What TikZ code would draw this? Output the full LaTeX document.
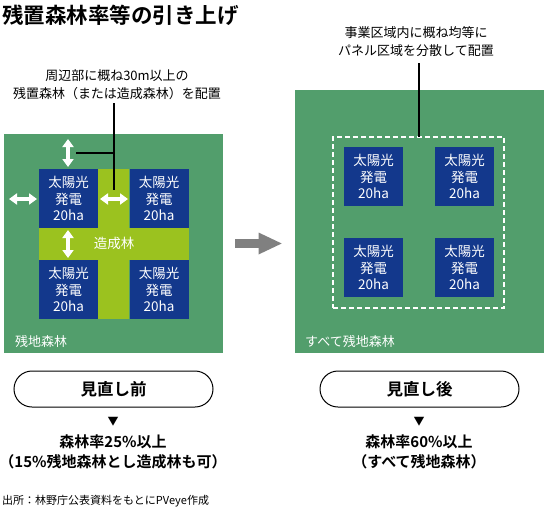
\documentclass[tikz,border=0pt]{standalone}
\usepackage{fontspec}
\setmainfont{Noto Sans CJK JP}[BoldFont={Noto Sans CJK JP Bold}]
\usetikzlibrary{arrows.meta}
\definecolor{forest}{RGB}{82,158,108}
\definecolor{panel}{RGB}{19,56,140}
\definecolor{lime}{RGB}{155,194,31}
\definecolor{arrowgray}{RGB}{128,128,128}
\tikzset{
  area/.style={fill=forest, inner sep=0pt, outer sep=0pt},
  panelbox/.style={fill=panel, inner sep=0pt, outer sep=0pt, minimum width=59pt, minimum height=59pt,
    text=white, align=center, font=\fontsize{13.5}{16.5}\selectfont},
  limebar/.style={fill=lime, inner sep=0pt, outer sep=0pt},
  dbl/.style={draw=white, line width=4pt, {Triangle[width=11pt,length=8pt]}-{Triangle[width=11pt,length=8pt]}},
  leader/.style={draw=black, line width=1.2pt},
  leadtext/.style={align=center, font=\fontsize{13}{18}\selectfont, inner sep=0pt},
  arealabel/.style={anchor=west, text=white, font=\fontsize{13}{15}\selectfont, inner sep=0pt},
  pill/.style={draw=black, line width=1pt, rounded corners=18pt, minimum width=199pt, minimum height=36pt,
    font=\bfseries\fontsize{16.5}{18}\selectfont, inner sep=0pt},
  result/.style={align=center, font=\bfseries\fontsize{15}{20}\selectfont, inner sep=0pt},
  tri/.style={font=\fontsize{11}{12}\selectfont, inner sep=0pt},
  bigarrow/.style={draw=arrowgray, line width=9pt, -{Triangle[width=20pt,length=24pt]}}
}
\begin{document}
\begin{tikzpicture}[x=1pt,y=-1pt]
\useasboundingbox (0,0) rectangle (544,509);
\fill[white] (0,0) rectangle (544,509);

% title
\node[anchor=west, inner sep=0pt, font=\bfseries\fontsize{21.5}{24}\selectfont] (title) at (2,15) {残置森林率等の引き上げ};

% ---------- left diagram ----------
\node[area, minimum width=219pt, minimum height=219pt] (lg) at (113.5,243.5) {};
\node[limebar, minimum width=31pt, minimum height=150pt] (vbar) at (113.5,244) {};
\node[limebar, minimum width=150pt, minimum height=32pt] (hbar) at (114,244) {};
\node[text=white, inner sep=0pt, font=\fontsize{13.5}{15}\selectfont] (zo) at (114,243) {造成林};
\node[panelbox] (ltl) at (68.5,198.5) {太陽光\\発電\\20ha};
\node[panelbox] (ltr) at (159,198.5) {太陽光\\発電\\20ha};
\node[panelbox] (lbl) at (68.5,289.5) {太陽光\\発電\\20ha};
\node[panelbox] (lbr) at (159,289.5) {太陽光\\発電\\20ha};
\node[arealabel] (lzan) at (15,341) {残地森林};

% white double arrows
\coordinate (a1s) at (68,139); \coordinate (a1e) at (68,167);
\coordinate (a2s) at (9,199);  \coordinate (a2e) at (37,199);
\coordinate (a3s) at (100,199); \coordinate (a3e) at (128,199);
\coordinate (a4s) at (68,230); \coordinate (a4e) at (68,258);
\draw[dbl] (a1s) -- (a1e);
\draw[dbl] (a2s) -- (a2e);
\draw[dbl] (a3s) -- (a3e);
\draw[dbl] (a4s) -- (a4e);

% left leader
\node[leadtext] (lt) at (117,85) {周辺部に概ね30m以上の\\残置森林（または造成森林）を配置};
\coordinate (l1) at (114,103); \coordinate (l2) at (114,190);
\coordinate (lj) at (114,153); \coordinate (lb) at (76,153);
\draw[leader] (l1) -- (l2);
\draw[leader] (lj) -- (lb);

% ---------- right diagram ----------
\node[area, minimum width=250pt, minimum height=263pt] (rg) at (419.5,221.5) {};
\node[draw=white, line width=2pt, dash pattern=on 5pt off 3pt, minimum width=171pt, minimum height=171pt,
  inner sep=0pt, outer sep=0pt] (dash) at (418.5,222.5) {};
\node[panelbox] (rtl) at (373.5,176.5) {太陽光\\発電\\20ha};
\node[panelbox] (rtr) at (464.5,176.5) {太陽光\\発電\\20ha};
\node[panelbox] (rbl) at (373.5,267.5) {太陽光\\発電\\20ha};
\node[panelbox] (rbr) at (464.5,267.5) {太陽光\\発電\\20ha};
\node[arealabel] (rzan) at (305,341) {すべて残地森林};

\node[leadtext] (rt) at (416,42) {事業区域内に概ね均等に\\パネル区域を分散して配置};
\coordinate (r1) at (419,63);
\draw[leader] (r1) -- (r1 |- dash.north);

% big gray arrow
\draw[bigarrow, shorten <=12pt, shorten >=12pt] (lg.east) -- (lg.east -| rg.west);

% ---------- bottom ----------
\node[pill] (pl) at (113.5,389) {見直し前};
\node[pill] (pr) at (419.5,389) {見直し後};
\node[tri] (tl) at (113,422) {▼};
\node[tri] (tr) at (419,422) {▼};
\node[result] (resl) at (113,452) {森林率25\%以上\\（15\%残地森林とし造成林も可）};
\node[result] (resr) at (419,452) {森林率60\%以上\\（すべて残地森林）};

\node[anchor=west, inner sep=0pt, font=\fontsize{11}{12}\selectfont] (src) at (2,501) {出所：林野庁公表資料をもとにPVeye作成};
\end{tikzpicture}
\end{document}
